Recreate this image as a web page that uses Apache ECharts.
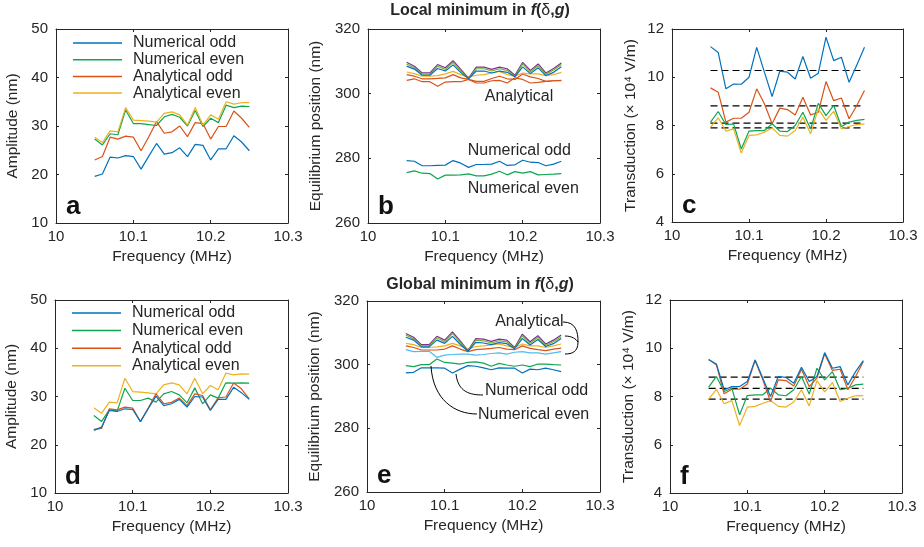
<!DOCTYPE html>
<html>
<head>
<meta charset="utf-8">
<script src="https://cdn.jsdelivr.net/npm/echarts@6/dist/echarts.min.js"></script>
<style>
html,body{margin:0;padding:0;background:#fff}
#chart{width:924px;height:547px}
</style>
</head>
<body>
<div id="chart"></div>
<script>
// Drive frequency (MHz) shared by every panel
const freq = [10.05,10.06,10.07,10.08,10.09,10.10,10.11,10.12,10.13,10.14,10.15,10.16,10.17,10.18,10.19,10.20,10.21,10.22,10.23,10.24,10.25];
const xTicks = [10, 10.3, 0.1];

// (a) amplitude, local minimum
const ampLocalNumOdd  = [19.6,20.1,23.6,23.4,23.9,23.7,21.1,23.8,26.4,24.2,24.5,25.5,23.7,26.2,26.0,23.0,25.3,25.3,28.0,26.7,24.9];
const ampLocalNumEven = [27.3,26.1,28.4,28.2,33.3,30.5,30.5,30.3,30.1,31.9,32.4,31.8,30.0,33.2,29.9,31.6,30.7,34.3,33.8,34.1,34.0];
const ampLocalAnaOdd  = [23.0,23.7,27.7,27.3,27.9,27.7,24.9,27.8,30.9,28.5,28.8,30.0,27.8,30.7,30.5,27.3,29.9,29.9,33.1,31.6,29.7];
const ampLocalAnaEven = [27.7,26.6,29.0,28.8,33.8,31.2,31.1,31.0,30.8,32.6,32.9,32.3,30.2,33.8,30.2,32.3,31.4,35.0,34.5,34.8,34.8];

// (b) equilibrium position, local minimum
const posLocalNumOdd  = [279.3,279.1,277.7,277.7,277.8,277.9,279.3,278.5,277.2,278.1,278.1,278.2,279.1,277.8,278.0,279.4,278.8,278.7,277.7,278.2,279.1];
const posLocalNumEven = [275.6,276.1,275.4,275.3,273.6,274.8,274.8,274.9,275.2,274.6,274.6,275.1,276.0,274.9,275.9,275.4,275.9,274.9,275.0,275.1,275.3];
const posLocalAna1 = [309.7,308.5,306.4,306.4,309.0,308.0,310.2,307.5,304.8,308.2,308.2,307.5,308.2,307.7,305.7,309.7,307.2,309.2,306.4,307.8,309.5];
const posLocalAna2 = [309.2,308.0,306.0,306.0,308.5,307.5,309.7,307.0,304.7,307.7,307.7,307.0,307.7,307.2,305.4,309.2,306.7,308.7,306.0,307.3,309.0];
const posLocalAna3 = [308.5,307.6,305.7,305.7,307.8,307.0,308.9,306.5,304.6,307.0,307.0,306.4,307.0,306.6,305.2,308.3,306.2,308.0,305.6,306.6,308.3];
const posLocalAna4 = [306.7,306.2,305.4,305.4,305.6,306.1,306.9,305.9,305.2,305.7,305.9,306.4,306.9,305.9,305.4,306.4,306.1,306.1,305.6,305.9,306.6];
const posLocalAna5 = [305.9,305.4,304.6,304.6,304.7,304.9,305.9,304.9,304.4,303.8,303.8,304.7,305.4,304.6,304.4,306.1,305.2,304.7,303.8,304.0,304.1];
const posLocalAna6 = [304.1,304.6,303.7,303.7,302.3,303.6,303.7,303.7,304.4,303.3,303.3,304.0,304.1,303.3,304.9,304.4,303.3,303.5,303.8,304.0,304.0];

// (c) transduction, local minimum (x 10^4 V/m)
const trLocalNumOdd  = [11.27,11.03,9.52,9.72,9.71,10.00,11.24,10.21,9.20,10.25,10.21,9.93,10.86,9.96,10.17,11.66,10.69,10.83,9.79,10.51,11.24];
const trLocalNumEven = [8.14,8.58,8.03,8.07,7.03,7.77,7.79,7.79,8.07,7.77,7.75,8.00,8.55,7.86,8.92,8.41,8.83,7.96,8.14,8.21,8.25];
const trLocalAnaOdd  = [9.56,9.38,8.14,8.30,8.30,8.55,9.52,8.90,8.07,8.72,8.66,8.44,9.17,8.44,8.55,9.82,9.03,9.14,8.28,8.83,9.45];
const trLocalAnaEven = [7.93,8.32,7.77,7.86,6.86,7.59,7.61,7.72,7.90,7.59,7.56,7.79,8.34,7.66,8.69,8.21,8.59,7.86,7.96,8.04,8.07];
const trLocalMeans   = [10.28, 8.81, 8.10, 7.90];

// (d) amplitude, global minimum
const ampGlobalNumOdd  = [22.97,23.66,27.1,26.9,27.45,27.3,24.8,27.45,30.07,28.1,28.5,29.4,27.8,30.0,29.9,27.1,29.4,29.4,31.9,30.8,29.4];
const ampGlobalNumEven = [26.07,24.83,27.24,26.97,31.72,29.17,29.17,29.66,28.83,30.55,31.03,30.34,28.69,31.79,28.48,30.34,29.66,32.83,32.76,32.83,32.76];
const ampGlobalAnaOdd  = [23.2,23.4,27.45,27.24,27.8,27.6,24.8,27.6,30.55,28.5,28.8,29.7,28.1,30.55,30.2,27.24,29.7,29.9,32.8,31.6,29.5];
const ampGlobalAnaEven = [27.66,26.55,28.83,28.69,33.79,31.03,30.9,30.76,30.55,32.41,32.83,32.41,30.55,33.79,30.55,32.28,31.38,34.83,34.48,34.69,34.62];

// (e) equilibrium position, global minimum
const posGlobalNumOdd  = [297.4,297.6,299.0,299.0,299.0,298.9,297.4,298.6,299.7,299.5,299.0,298.4,299.0,298.9,298.9,297.4,298.6,298.4,298.9,298.4,297.8];
const posGlobalNumEven = [299.7,299.4,300.0,300.0,301.8,300.7,300.5,300.2,300.7,300.9,300.5,299.5,300.4,299.9,299.5,299.9,299.4,300.2,300.2,300.0,299.9];
const posGlobalAna1 = [309.8,308.6,306.3,306.3,308.9,307.7,310.3,307.5,304.4,308.2,308.0,307.3,308.0,307.7,305.4,309.6,307.2,309.1,306.5,307.7,309.3];
const posGlobalAna2 = [309.3,308.1,305.9,305.9,308.4,307.2,309.8,307.0,304.3,307.7,307.5,306.8,307.5,307.2,305.1,309.1,306.7,308.6,306.1,307.2,308.8];
const posGlobalAna3 = [308.6,307.7,305.6,305.6,307.7,306.7,308.9,306.4,304.2,307.0,306.8,306.3,306.9,306.6,305.0,308.2,306.2,307.9,305.7,306.6,308.2];
const posGlobalAna4 = [306.7,306.3,305.4,305.4,305.6,305.9,306.7,305.9,304.9,305.7,305.9,306.2,306.5,305.9,305.4,306.5,305.9,305.9,305.4,305.9,306.5];
const posGlobalAna5 = [305.9,305.4,304.6,304.6,304.6,304.9,305.9,304.9,304.1,304.7,304.9,305.1,305.4,304.9,304.7,305.9,305.1,304.7,304.4,304.9,305.2];
const posGlobalAna6 = [304.7,304.1,304.2,304.2,302.3,303.0,303.2,303.3,303.3,303.0,303.2,303.5,303.7,303.3,303.9,304.1,303.7,303.7,303.3,303.7,304.1];

// (f) transduction, global minimum (x 10^4 V/m)
const trGlobalNumOdd  = [9.52,9.35,8.28,8.41,8.41,8.62,9.52,8.76,8.00,8.83,8.79,8.55,9.21,8.62,8.83,9.82,9.17,9.24,8.48,9.03,9.49];
const trGlobalNumEven = [8.39,8.83,8.21,8.34,7.24,8.04,8.07,8.07,8.34,8.07,8.03,8.28,8.83,8.10,9.17,8.69,9.03,8.28,8.34,8.48,8.51];
const trGlobalAnaOdd  = [9.54,9.31,8.11,8.30,8.30,8.52,9.49,8.69,7.79,8.69,8.66,8.44,9.13,8.41,8.76,9.77,9.08,9.13,8.28,8.83,9.45];
const trGlobalAnaEven = [7.89,8.30,7.70,7.83,6.80,7.56,7.59,7.72,7.83,7.59,7.56,7.77,8.28,7.61,8.66,8.19,8.58,7.79,7.93,8.03,8.04];
const trGlobalMeans   = [8.80, 8.34, 7.89];

// y-axis ranges [min, max, step] per panel
const yRanges = [[10,50,10],[260,320,20],[4,12,2],[10,50,10],[260,320,20],[4,12,2]];
const yNames = ['Amplitude (nm)','Equilibrium position (nm)','Transduction (\u00d7 10\u2074 V/m)'];
const legendNames = ['Numerical odd','Numerical even','Analytical odd','Analytical even'];
const panelLetters = ['a','b','c','d','e','f'];

const C = {
  blue:'#0072BD', green:'#10A550', orange:'#D95319', yellow:'#EDB120',
  purple:'#7E2F8E', lime:'#77AC30', cyan:'#4DBEEE'
};
const AX = '#262626';
const TXT = '#262626';
const FONT = "'Liberation Sans', Arial, Helvetica, sans-serif";
const TICK_FS = 15, NAME_FS = 15.5, NOTE_FS = 16;

const grids = [
  {left:56,  top:29,  width:232, height:194},
  {left:368, top:29,  width:232, height:194},
  {left:672, top:29,  width:231, height:193},
  {left:55,  top:300, width:233, height:193},
  {left:367, top:301, width:233, height:191},
  {left:670, top:300, width:232, height:193}
];
const yNameGaps = [35, 44, 33];

const xAxis = [], yAxis = [];
grids.forEach((g, i) => {
  const common = {
    gridIndex: i, type: 'value',
    axisLine: {show: true, onZero: false, lineStyle: {color: AX, width: 1}},
    axisTick: {show: true, inside: true, length: 3, lineStyle: {color: AX, width: 1}},
    splitLine: {show: false}
  };
  xAxis.push(Object.assign({}, common, {
    position: 'bottom', min: xTicks[0], max: xTicks[1], interval: xTicks[2],
    axisLabel: {fontSize: TICK_FS, color: TXT, fontFamily: FONT, margin: 6, showMinLabel: true, showMaxLabel: true,
      formatter: v => String(+v.toFixed(1))},
    name: 'Frequency (MHz)', nameLocation: 'middle', nameGap: 26,
    nameTextStyle: {fontSize: NAME_FS, color: TXT, fontFamily: FONT}
  }));
  xAxis.push(Object.assign({}, common, {
    position: 'top', min: xTicks[0], max: xTicks[1], interval: xTicks[2], axisLabel: {show: false}
  }));
  const r = yRanges[i];
  yAxis.push(Object.assign({}, common, {
    position: 'left', min: r[0], max: r[1], interval: r[2],
    axisLabel: {fontSize: TICK_FS, color: TXT, fontFamily: FONT, margin: 8, showMinLabel: true, showMaxLabel: true},
    name: yNames[i % 3], nameLocation: 'middle', nameGap: yNameGaps[i % 3],
    nameTextStyle: {fontSize: NAME_FS, color: TXT, fontFamily: FONT}
  }));
  yAxis.push(Object.assign({}, common, {
    position: 'right', min: r[0], max: r[1], interval: r[2], axisLabel: {show: false}
  }));
});

function pairs(vals) { return freq.map((f, k) => [f, vals[k]]); }
function line(panel, name, vals, color, z) {
  return {
    type: 'line', name: name, xAxisIndex: panel * 2, yAxisIndex: panel * 2,
    data: pairs(vals), showSymbol: false, symbol: 'none', animation: false,
    lineStyle: {color: color, width: 1.2}, itemStyle: {color: color}, z: z || 2
  };
}
function meanLine(panel, v) {
  return {
    type: 'line', xAxisIndex: panel * 2, yAxisIndex: panel * 2,
    data: [[freq[0], v], [freq[freq.length - 1], v]], showSymbol: false, symbol: 'none', animation: false,
    lineStyle: {color: '#000', width: 1.2, type: [7, 4]}, z: 1, silent: true
  };
}

const series = [
  // a
  line(0, 'Numerical odd', ampLocalNumOdd, C.blue),
  line(0, 'Numerical even', ampLocalNumEven, C.green),
  line(0, 'Analytical odd', ampLocalAnaOdd, C.orange),
  line(0, 'Analytical even', ampLocalAnaEven, C.yellow),
  // b
  line(1, 'b-num-odd', posLocalNumOdd, C.blue),
  line(1, 'b-num-even', posLocalNumEven, C.green),
  line(1, 'b-ana-6', posLocalAna6, C.orange),
  line(1, 'b-ana-5', posLocalAna5, C.orange),
  line(1, 'b-ana-4', posLocalAna4, C.yellow),
  line(1, 'b-ana-1', posLocalAna1, C.purple),
  line(1, 'b-ana-2', posLocalAna2, C.lime),
  line(1, 'b-ana-3', posLocalAna3, C.blue),
  // c
  ...trLocalMeans.map(v => meanLine(2, v)),
  line(2, 'c-num-odd', trLocalNumOdd, C.blue),
  line(2, 'c-ana-odd', trLocalAnaOdd, C.orange),
  line(2, 'c-ana-even', trLocalAnaEven, C.yellow),
  line(2, 'c-num-even', trLocalNumEven, C.green),
  // d
  line(3, 'Analytical even', ampGlobalAnaEven, C.yellow),
  line(3, 'Numerical even', ampGlobalNumEven, C.green),
  line(3, 'Analytical odd', ampGlobalAnaOdd, C.orange),
  line(3, 'Numerical odd', ampGlobalNumOdd, C.blue),
  // e
  line(4, 'e-num-odd', posGlobalNumOdd, C.blue),
  line(4, 'e-num-even', posGlobalNumEven, C.green),
  line(4, 'e-ana-6', posGlobalAna6, C.cyan),
  line(4, 'e-ana-5', posGlobalAna5, C.orange),
  line(4, 'e-ana-4', posGlobalAna4, C.yellow),
  line(4, 'e-ana-1', posGlobalAna1, C.purple),
  line(4, 'e-ana-2', posGlobalAna2, C.lime),
  line(4, 'e-ana-3', posGlobalAna3, C.blue),
  // f
  ...trGlobalMeans.map(v => meanLine(5, v)),
  line(5, 'f-ana-even', trGlobalAnaEven, C.yellow),
  line(5, 'f-num-even', trGlobalNumEven, C.green),
  line(5, 'f-ana-odd', trGlobalAnaOdd, C.orange),
  line(5, 'f-num-odd', trGlobalNumOdd, C.blue)
];

function legendAt(left, top, gap) {
  return {
    left: left, top: top, orient: 'vertical', icon: 'rect', padding: 0,
    itemWidth: 49, itemHeight: 1.5, itemGap: gap, selectedMode: false,
    data: legendNames,
    textStyle: {fontSize: NOTE_FS, color: TXT, fontFamily: FONT, lineHeight: 16, padding: [0, 0, 0, 6]}
  };
}

const chart = echarts.init(document.getElementById('chart'), null, {renderer: 'canvas'});
chart.setOption({
  backgroundColor: '#fff',
  animation: false,
  grid: grids.map(g => Object.assign({containLabel: false}, g)),
  xAxis: xAxis, yAxis: yAxis, series: series,
  legend: [legendAt(73, 35, 0.7), legendAt(72, 305, 1.6)]
});

// Annotation text and leader curves placed in data coordinates of the panels
const bLabels = [['Analytical', 10.151, 299.0], ['Numerical odd', 10.129, 282.3], ['Numerical even', 10.129, 270.5]];
const eLabels = [['Analytical', 10.165, 313.4], ['Numerical odd', 10.152, 291.7], ['Numerical even', 10.143, 284.2]];
// cubic curves: start, control 1, control 2, end
const eCurves = [
  [[10.1146, 297.07], [10.1172, 291.4], [10.1326, 290.47], [10.1494, 290.47]],
  [[10.0824, 299.58], [10.085, 288.9], [10.1133, 284.5], [10.1416, 284.5]],
  [[10.2524, 313.4], [10.2691, 313.4], [10.2717, 310.26], [10.2717, 307.12]],
  [[10.2549, 309.0], [10.2640, 309.0], [10.2691, 308.06], [10.2717, 307.12]],
  [[10.2717, 307.12], [10.2717, 303.98], [10.2640, 303.35], [10.2549, 303.35]]
];

function px(panel, pt) {
  return chart.convertToPixel({xAxisIndex: panel * 2, yAxisIndex: panel * 2}, pt);
}
function textEl(panel, item) {
  const p = px(panel, [item[1], item[2]]);
  return {type: 'text', x: p[0], y: p[1], z: 50,
    style: {text: item[0], font: NOTE_FS + 'px ' + FONT, fill: TXT, align: 'left', verticalAlign: 'middle'}};
}
function curveEl(panel, c) {
  const a = px(panel, c[0]), b = px(panel, c[1]), d = px(panel, c[2]), e = px(panel, c[3]);
  return {type: 'bezierCurve', z: 50, silent: true,
    shape: {x1: a[0], y1: a[1], cpx1: b[0], cpy1: b[1], cpx2: d[0], cpy2: d[1], x2: e[0], y2: e[1]},
    style: {stroke: '#000', lineWidth: 1, fill: null}};
}
function titleEl(y, lead) {
  return {type: 'text', x: 480, y: y, z: 50,
    style: {
      text: '{b|' + lead + ' }{bi|f}{b|(}{r|\u03b4}{b|,}{bi|g}{b|)}',
      align: 'center', verticalAlign: 'middle',
      rich: {
        b:  {fontFamily: FONT, fontSize: 16, fontWeight: 'bold', fill: TXT},
        bi: {fontFamily: FONT, fontSize: 16, fontWeight: 'bold', fontStyle: 'italic', fill: TXT},
        r:  {fontFamily: FONT, fontSize: 16, fill: TXT}
      }
    }};
}

const graphic = [titleEl(11, 'Local minimum in'), titleEl(285, 'Global minimum in')];
grids.forEach((g, i) => {
  graphic.push({type: 'text', x: g.left + 10, y: g.top + g.height - 3, z: 50,
    style: {text: panelLetters[i], font: 'bold 26px ' + FONT, fill: '#111', align: 'left', verticalAlign: 'bottom'}});
});
bLabels.forEach(l => graphic.push(textEl(1, l)));
eLabels.forEach(l => graphic.push(textEl(4, l)));
eCurves.forEach(c => graphic.push(curveEl(4, c)));

chart.setOption({graphic: graphic});
</script>
</body>
</html>
